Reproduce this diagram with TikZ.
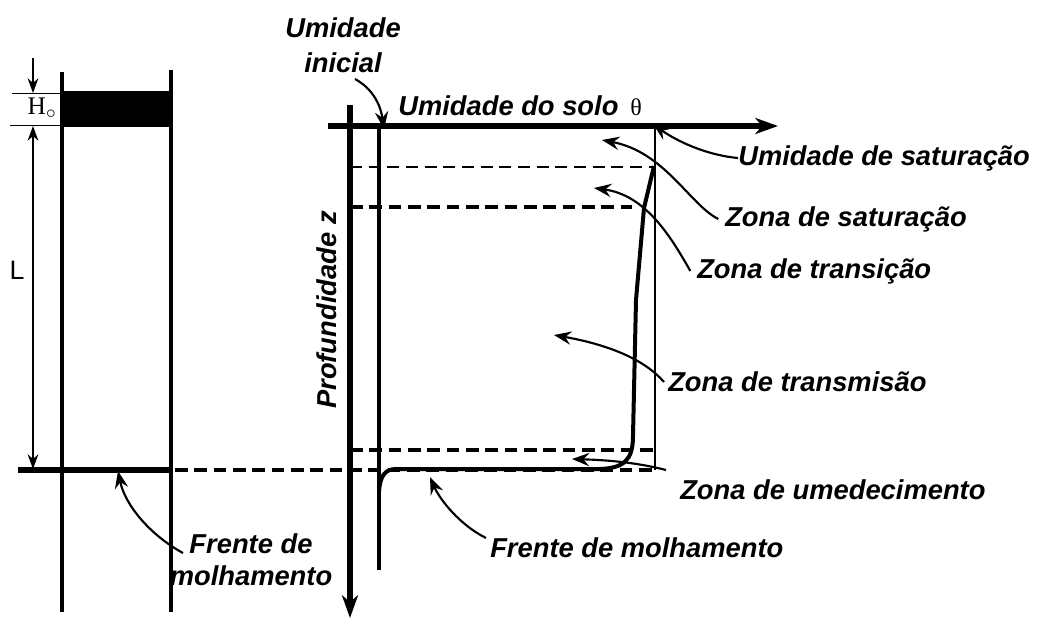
\documentclass[tikz,border=0pt]{standalone}
\usepackage{fontspec}
\setmainfont{Liberation Sans}
\newfontfamily\serifx{Liberation Serif}
\usetikzlibrary{arrows.meta}
\begin{document}
\begin{tikzpicture}[x=0.75pt,y=-0.75pt,
  lbl/.style={font=\fontsize{20.5}{22}\selectfont\bfseries\itshape, inner sep=0pt, anchor=west},
  lblc/.style={font=\fontsize{20.5}{22}\selectfont\bfseries\itshape, inner sep=0pt, align=center},
  ann/.style={line width=1.6pt, -{Stealth[length=13pt,width=10pt,inset=4.5pt]}},
  axis/.style={line width=3.8pt, -{Stealth[length=17pt,width=12pt,inset=5pt]}},
  dim/.style={line width=1.3pt, {Stealth[length=11pt,width=8pt,inset=3.5pt]}-{Stealth[length=11pt,width=8pt,inset=3.5pt]}},
  dimend/.style={line width=1.3pt, -{Stealth[length=11pt,width=8pt,inset=3.5pt]}},
  dsh/.style={line width=3pt, dash pattern=on 9.5pt off 5pt},
  dshthin/.style={line width=2.2pt, dash pattern=on 9pt off 5pt},
  thin/.style={line width=0.7pt},
  prof/.style={line width=3pt, line join=round}
]
\useasboundingbox (0,0) rectangle (1043,619);
% ---------------- left column ----------------
\fill (62,91) rectangle (171,127);
\draw[line width=2.4pt] (62,72) -- (62,612);
\draw[line width=3.6pt] (171,70) -- (171,612);
\draw[thin] (12,93) -- (62,93);
\draw[thin] (10,125) -- (62,125);
\coordinate (htop) at (33,93);
\coordinate (hstart) at (33,58);
\draw[dimend] (hstart) -- (htop);
\coordinate (ltop) at (33,126);
\coordinate (lbot) at (33,469);
\draw[dim] (ltop) -- (lbot);
\node[font=\serifx\fontsize{19}{20}\selectfont, inner sep=0pt] (Ho) at (42,108) {H$_{\circ}$};
\node[font=\fontsize{20}{22}\selectfont, inner sep=0pt] (L) at (17,270) {L};
\draw[line width=3.8pt] (18,470) -- (171,470);
\draw[dsh] (175,470) -- (655,470);
\node[lblc] (fm1) at (251,560) {Frente de\\[2pt]molhamento};
\coordinate (fm1tip) at (118,471);
\draw[ann] (183,553) .. controls (150,535) and (125,505) .. (fm1tip);
% ---------------- right diagram ----------------
\coordinate (xo) at (328,126);
\coordinate (xe) at (778,126);
\coordinate (zo) at (350,105);
\coordinate (ze) at (350,618);
\draw[axis] (xo) -- (xe);
\draw[axis] (zo) -- (ze);
\node[lbl] (usolo) at (398,106) {Umidade do solo\hspace{9pt}{\serifx\mdseries\upshape\fontsize{18}{18}\selectfont θ}};
\node[lblc, rotate=90] (prof) at (327,310) {Profundidade z};
% initial moisture line and saturation line
\draw[line width=2.6pt] (379,126) -- (379,570);
\draw[line width=0.8pt] (655,126) -- (655,470);
% dashed zone limits
\draw[dshthin] (350,167) -- (655,167);
\draw[dsh] (350,207) -- (632,207);
\draw[dsh] (350,450) -- (655,450);
% moisture profile
\draw[prof] (654,166) -- (644,208) -- (636,300) -- (633,436)
  .. controls (633,460) and (624,468) .. (600,469) -- (396,469)
  .. controls (385,469) and (380,476) .. (379,492);
% labels
\node[lblc] (uini) at (343,45) {Umidade\\[4pt]inicial};
\coordinate (uinitip) at (384,129);
\draw[ann] (355,79) .. controls (375,90) and (381,108) .. (uinitip);
\node[lbl] (usat) at (738,158) {Umidade de saturação};
\coordinate (usattip) at (653,124);
\draw[ann] (usat.west) .. controls (705,155) and (675,140) .. (usattip);
\node[lbl] (zsat) at (725,219) {Zona de saturação};
\coordinate (zsattip) at (602,140);
\draw[ann] ([xshift=-5pt]zsat.west) .. controls (690,205) and (665,152) .. (zsattip);
\node[lbl] (ztra) at (697,271) {Zona de transição};
\coordinate (ztratip) at (594,188);
\draw[ann] ([xshift=-5pt]ztra.west) .. controls (670,235) and (645,195) .. (ztratip);
\node[lbl] (ztrm) at (668,382) {Zona de transmisão};
\coordinate (ztrmtip) at (554,335);
\draw[ann] ([xshift=-3pt]ztrm.west) .. controls (645,360) and (610,345) .. (ztrmtip);
\node[lbl] (zume) at (680,490) {Zona de umedecimento};
\coordinate (zumetip) at (572,459);
\draw[ann] (666,470) .. controls (635,462) and (605,460) .. (zumetip);
\node[lbl] (fm2) at (490,548) {Frente de molhamento};
\coordinate (fm2tip) at (430,477);
\draw[ann] (486,538) .. controls (460,525) and (440,500) .. (fm2tip);
\end{tikzpicture}
\end{document}
